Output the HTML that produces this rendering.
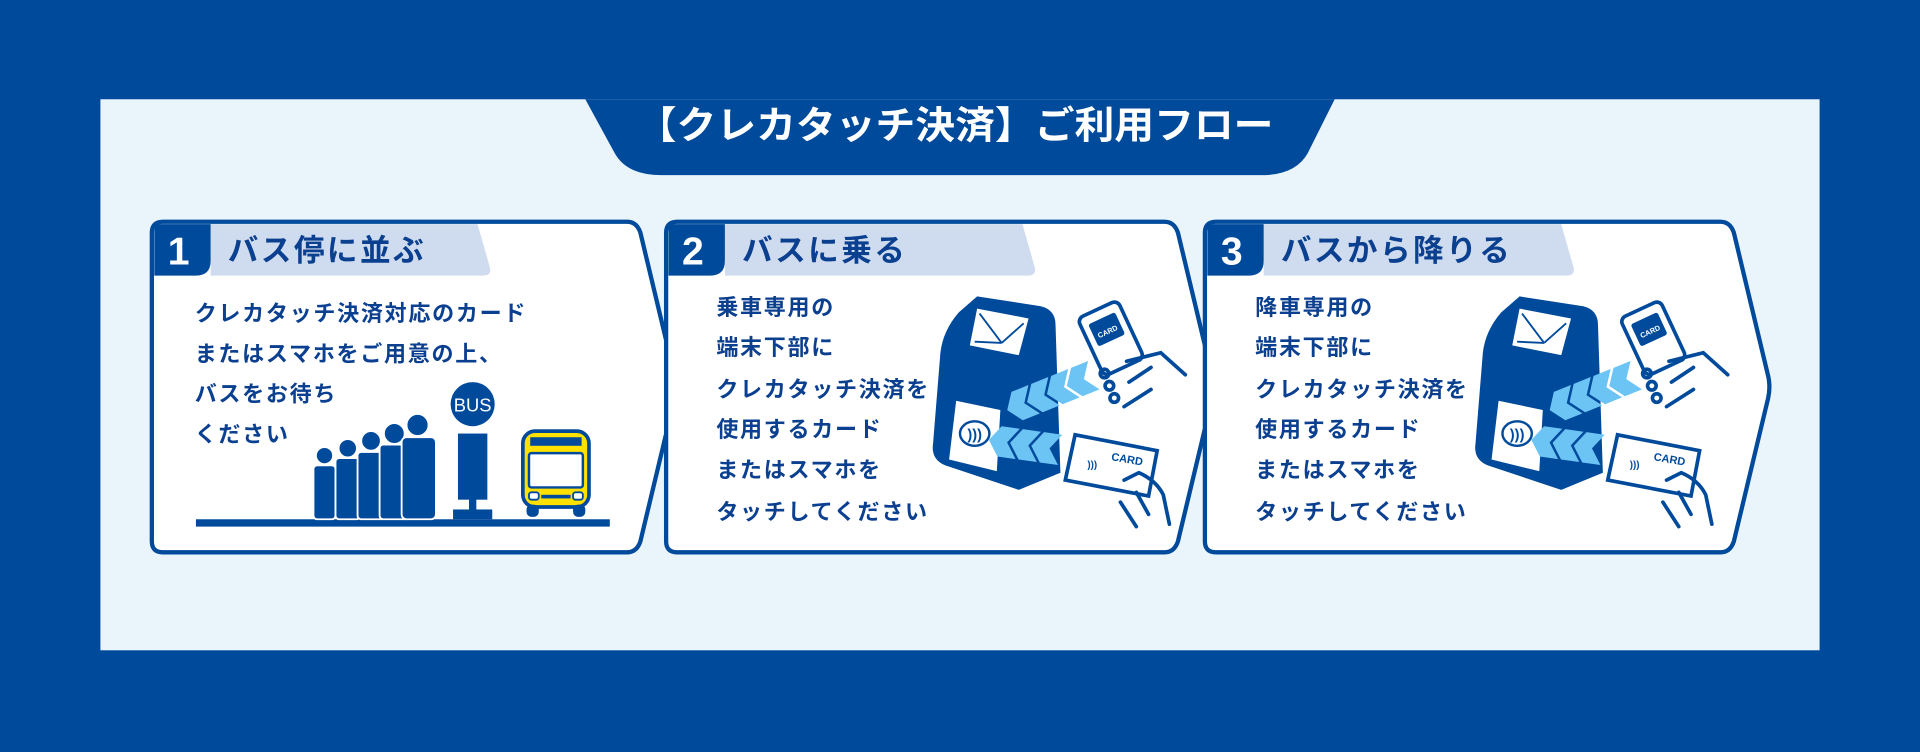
<!DOCTYPE html>
<html><head><meta charset="utf-8"><style>
html,body{margin:0;padding:0;background:#004a9c;}
svg{display:block;}
text{font-family:"Liberation Sans","Noto Sans CJK JP",sans-serif;font-weight:bold;}
.b{fill:#0b3f8f;font-size:18px;letter-spacing:1.4px;font-weight:600;}
.h{fill:#0b3f8f;font-size:25px;letter-spacing:2px;}
.n{fill:#fff;font-size:32px;font-weight:bold;}
</style></head><body>
<svg width="1920" height="752" viewBox="0 0 1568 614" xmlns="http://www.w3.org/2000/svg">
<rect width="1568" height="614" fill="#004a9c"/>
<rect x="82" y="81" width="1404" height="450" fill="#eaf4fb"/>
<path d="M478,81 L1090,81 L1068,125 Q1058,143 1030,143 L540,143 Q512,143 502,125 Z" fill="#004a9c"/>
<text x="520" y="113" fill="#fff" font-size="31" style="font-weight:600" textLength="520" lengthAdjust="spacingAndGlyphs">【クレカタッチ決済】ご利用フロー</text>

<g stroke="#004a9c" stroke-width="3.5" fill="#fff" stroke-linejoin="round">
<path d="M133,181 L512,181 Q520,181 523,190 L551,307 Q553,316 551,325 L523,442 Q520,451 512,451 L133,451 Q124,451 124,442 L124,190 Q124,181 133,181 Z"/>
<path d="M553,181 L951,181 Q959,181 962,190 L990,307 Q992,316 990,325 L962,442 Q959,451 951,451 L553,451 Q544,451 544,442 L544,190 Q544,181 553,181 Z"/>
<path d="M993,181 L1405,181 Q1413,181 1416,190 L1444,307 Q1446,316 1444,325 L1416,442 Q1413,451 1405,451 L993,451 Q984,451 984,442 L984,190 Q984,181 993,181 Z"/>
</g>
<g>
<path d="M172,183 L390,183 L400,218 Q402,225 394,225 L172,225 Z" fill="#cfdcef"/>
<path d="M126,183 L172,183 L172,213 Q172,225 160,225 L126,225 Z" fill="#004a9c"/>
<text class="n" x="137" y="216">1</text>
<text class="h" x="186" y="213">バス停に並ぶ</text>

<path d="M592,183 L835,183 L845,218 Q847,225 839,225 L592,225 Z" fill="#cfdcef"/>
<path d="M546,183 L592,183 L592,213 Q592,225 580,225 L546,225 Z" fill="#004a9c"/>
<text class="n" x="557" y="216">2</text>
<text class="h" x="606" y="213">バスに乗る</text>

<path d="M1032,183 L1275,183 L1285,218 Q1287,225 1279,225 L1032,225 Z" fill="#cfdcef"/>
<path d="M986,183 L1032,183 L1032,213 Q1032,225 1020,225 L986,225 Z" fill="#004a9c"/>
<text class="n" x="997" y="216">3</text>
<text class="h" x="1046" y="213">バスから降りる</text>
</g>
<text class="b" x="159" y="262">クレカタッチ決済対応のカード</text>
<text class="b" x="159" y="295">またはスマホをご用意の上、</text>
<text class="b" x="159" y="328">バスをお待ち</text>
<text class="b" x="159" y="361">ください</text>

<text class="b" x="585" y="257">乗車専用の</text>
<text class="b" x="585" y="290">端末下部に</text>
<text class="b" x="585" y="324">クレカタッチ決済を</text>
<text class="b" x="585" y="357">使用するカード</text>
<text class="b" x="585" y="390">またはスマホを</text>
<text class="b" x="585" y="424">タッチしてください</text>

<text class="b" x="1025" y="257">降車専用の</text>
<text class="b" x="1025" y="290">端末下部に</text>
<text class="b" x="1025" y="324">クレカタッチ決済を</text>
<text class="b" x="1025" y="357">使用するカード</text>
<text class="b" x="1025" y="390">またはスマホを</text>
<text class="b" x="1025" y="424">タッチしてください</text>

<rect x="160" y="424" width="338" height="6" fill="#004a9c"/>
<g fill="#004a9c" stroke="#fff" stroke-width="1.5">
<circle cx="265" cy="372" r="7"/><rect x="256" y="380" width="18" height="44" rx="3"/>
<circle cx="284" cy="366" r="7.5"/><rect x="274" y="374" width="20" height="50" rx="3"/>
<circle cx="303" cy="360" r="8"/><rect x="292" y="369" width="22" height="55" rx="3"/>
<circle cx="322" cy="354" r="8.5"/><rect x="310" y="363" width="24" height="61" rx="3"/>
<circle cx="341" cy="347" r="9"/><rect x="328" y="357" width="28" height="67" rx="4"/>
</g>
<circle cx="386" cy="330" r="18" fill="#004a9c"/>
<text x="386" y="336" fill="#fff" font-size="15" style="font-weight:normal" text-anchor="middle">BUS</text>
<rect x="374" y="354" width="24" height="54" fill="#004a9c"/>
<rect x="383" y="405" width="6" height="14" fill="#004a9c"/>
<rect x="370" y="416" width="32" height="8" fill="#004a9c"/>
<g>
<rect x="427" y="352" width="54" height="62" rx="10" fill="#ffe100" stroke="#004a9c" stroke-width="3"/>
<rect x="433" y="357" width="42" height="7" fill="#004a9c"/>
<rect x="432" y="370" width="44" height="28" rx="2" fill="#fff" stroke="#004a9c" stroke-width="2"/>
<rect x="432" y="402" width="8" height="6" rx="2" fill="#fff" stroke="#004a9c" stroke-width="1.5"/>
<rect x="468" y="402" width="8" height="6" rx="2" fill="#fff" stroke="#004a9c" stroke-width="1.5"/>
<rect x="442" y="404" width="24" height="3" fill="#004a9c"/>
<rect x="430" y="412" width="10" height="10" rx="4" fill="#004a9c"/>
<rect x="468" y="412" width="10" height="10" rx="4" fill="#004a9c"/>
</g>

<g>
<path d="M798,242 L850,250 Q862,253 862,265 L866,386 L832,400 L772,380 Q760,375 762,362 L768,288 Q770,270 783,255 Z" fill="#004a9c"/>
<polygon points="798,252 840,260 832,290 792,282" fill="#fff"/>
<g stroke="#004a9c" stroke-width="1.5"><line x1="800" y1="256" x2="818" y2="280"/><line x1="836" y1="264" x2="818" y2="280"/><line x1="796" y1="279" x2="818" y2="280"/></g>
<polygon points="780,326 818,334 815,386 774,376" fill="#fff" stroke="#004a9c" stroke-width="2"/>
<ellipse cx="796" cy="354" rx="12" ry="10" fill="none" stroke="#004a9c" stroke-width="2"/>
<text x="796" y="359" fill="#004a9c" font-size="12" text-anchor="middle">)))</text>
<g fill="#6cc4f5" transform="translate(826,320) rotate(-22) scale(1.25)">
<polygon points="0,0 12,0 5,10 12,20 0,20 -7,10"/><polygon points="14,0 26,0 19,10 26,20 14,20 7,10"/><polygon points="28,0 40,0 33,10 40,20 28,20 21,10"/><polygon points="42,0 54,0 47,10 54,20 42,20 35,10"/>
</g>
<g fill="#6cc4f5" transform="translate(818,348) rotate(8) scale(1.25)">
<polygon points="0,0 12,0 5,10 12,20 0,20 -7,10"/><polygon points="14,0 26,0 19,10 26,20 14,20 7,10"/><polygon points="28,0 40,0 33,10 40,20 28,20 21,10"/>
</g>
<g transform="translate(908,278) rotate(-25)">
<rect x="-18" y="-28" width="36" height="52" rx="5" fill="#fff" stroke="#004a9c" stroke-width="3"/>
<rect x="-12" y="-20" width="24" height="20" rx="2" fill="#004a9c"/>
<text x="0" y="-6" fill="#fff" font-size="6" text-anchor="middle">CARD</text>
</g>
<g fill="none" stroke="#004a9c" stroke-width="3" stroke-linecap="round">
<circle cx="902" cy="305" r="3.5"/><circle cx="906" cy="315" r="3.5"/><circle cx="910" cy="325" r="3.5"/>
<path d="M920,295 L948,288 L968,306"/><path d="M922,312 L940,300"/><path d="M918,332 L940,318"/>
</g>
<polygon points="878,355 945,368 938,405 870,392" fill="#fff" stroke="#004a9c" stroke-width="3"/>
<text x="920" y="378" fill="#004a9c" font-size="9" transform="rotate(10 920 378)" text-anchor="middle">CARD</text>
<text x="888" y="382" fill="#004a9c" font-size="8">)))</text>
<g fill="none" stroke="#004a9c" stroke-width="3" stroke-linecap="round">
<path d="M918,392 L930,386 Q944,392 950,404 L955,428"/><path d="M915,410 L928,430"/><path d="M928,402 L938,420"/>
</g>
</g>
<g transform="translate(443,0)">
<path d="M798,242 L850,250 Q862,253 862,265 L866,386 L832,400 L772,380 Q760,375 762,362 L768,288 Q770,270 783,255 Z" fill="#004a9c"/>
<polygon points="798,252 840,260 832,290 792,282" fill="#fff"/>
<g stroke="#004a9c" stroke-width="1.5"><line x1="800" y1="256" x2="818" y2="280"/><line x1="836" y1="264" x2="818" y2="280"/><line x1="796" y1="279" x2="818" y2="280"/></g>
<polygon points="780,326 818,334 815,386 774,376" fill="#fff" stroke="#004a9c" stroke-width="2"/>
<ellipse cx="796" cy="354" rx="12" ry="10" fill="none" stroke="#004a9c" stroke-width="2"/>
<text x="796" y="359" fill="#004a9c" font-size="12" text-anchor="middle">)))</text>
<g fill="#6cc4f5" transform="translate(826,320) rotate(-22) scale(1.25)">
<polygon points="0,0 12,0 5,10 12,20 0,20 -7,10"/><polygon points="14,0 26,0 19,10 26,20 14,20 7,10"/><polygon points="28,0 40,0 33,10 40,20 28,20 21,10"/><polygon points="42,0 54,0 47,10 54,20 42,20 35,10"/>
</g>
<g fill="#6cc4f5" transform="translate(818,348) rotate(8) scale(1.25)">
<polygon points="0,0 12,0 5,10 12,20 0,20 -7,10"/><polygon points="14,0 26,0 19,10 26,20 14,20 7,10"/><polygon points="28,0 40,0 33,10 40,20 28,20 21,10"/>
</g>
<g transform="translate(908,278) rotate(-25)">
<rect x="-18" y="-28" width="36" height="52" rx="5" fill="#fff" stroke="#004a9c" stroke-width="3"/>
<rect x="-12" y="-20" width="24" height="20" rx="2" fill="#004a9c"/>
<text x="0" y="-6" fill="#fff" font-size="6" text-anchor="middle">CARD</text>
</g>
<g fill="none" stroke="#004a9c" stroke-width="3" stroke-linecap="round">
<circle cx="902" cy="305" r="3.5"/><circle cx="906" cy="315" r="3.5"/><circle cx="910" cy="325" r="3.5"/>
<path d="M920,295 L948,288 L968,306"/><path d="M922,312 L940,300"/><path d="M918,332 L940,318"/>
</g>
<polygon points="878,355 945,368 938,405 870,392" fill="#fff" stroke="#004a9c" stroke-width="3"/>
<text x="920" y="378" fill="#004a9c" font-size="9" transform="rotate(10 920 378)" text-anchor="middle">CARD</text>
<text x="888" y="382" fill="#004a9c" font-size="8">)))</text>
<g fill="none" stroke="#004a9c" stroke-width="3" stroke-linecap="round">
<path d="M918,392 L930,386 Q944,392 950,404 L955,428"/><path d="M915,410 L928,430"/><path d="M928,402 L938,420"/>
</g>
</g>
</svg>
</body></html>
